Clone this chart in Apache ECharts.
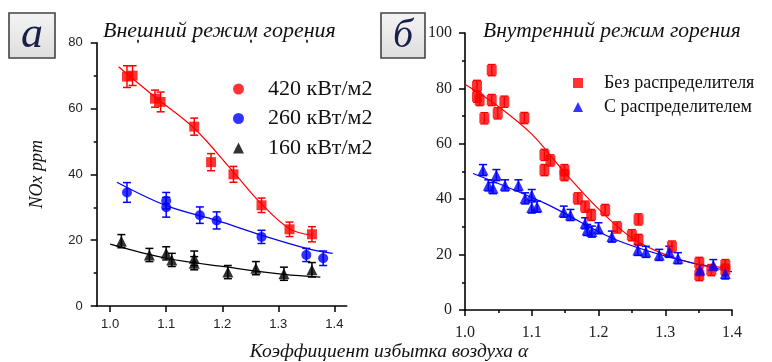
<!DOCTYPE html>
<html><head><meta charset="utf-8">
<script src="https://cdn.jsdelivr.net/npm/echarts@6/dist/echarts.min.js"></script>
<style>html,body{margin:0;padding:0;background:#fff}#c{width:772px;height:362px}</style>
</head><body><div id="c"></div>
<script>
// ---- Panel a: external combustion mode ----
const xTicksA = [1.0, 1.1, 1.2, 1.3, 1.4];
const xMinorA = [1.05, 1.15, 1.25, 1.35];
const names = ['420 кВт/м2', '260 кВт/м2', '160 кВт/м2'];
const x420 = [1.03, 1.04, 1.08, 1.09, 1.15, 1.18, 1.22, 1.27, 1.32, 1.36];
const y420 = [69.7, 70.0, 63.0, 62.0, 54.5, 43.7, 40.0, 30.6, 23.3, 21.8];
const e420 = [3.3, 3.0, 2.6, 3.0, 2.6, 2.6, 2.4, 2.2, 2.2, 2.3];
const fx420 = [1.015, 1.08, 1.15, 1.22, 1.27, 1.32, 1.36];
const fy420 = [72.7, 63.5, 54.0, 40.7, 31.0, 23.5, 21.5];
const x260 = [1.03, 1.10, 1.10, 1.16, 1.19, 1.27, 1.35, 1.38];
const y260 = [34.5, 32.0, 30.0, 27.6, 26.0, 21.0, 15.5, 14.5];
const e260 = [3.0, 2.5, 3.0, 2.5, 2.6, 2.0, 2.0, 2.2];
const fx260 = [1.012, 1.10, 1.19, 1.27, 1.35, 1.397];
const fy260 = [37.6, 30.5, 26.0, 21.5, 17.5, 16.0];
const x160 = [1.02, 1.07, 1.10, 1.11, 1.15, 1.15, 1.21, 1.26, 1.31, 1.36];
const y160 = [19.7, 15.5, 16.0, 14.0, 14.5, 13.0, 10.3, 11.5, 9.8, 11.0];
const e160 = [2.0, 2.0, 2.0, 2.0, 2.2, 2.0, 2.0, 2.0, 2.0, 2.2];
const fx160 = [1.0, 1.10, 1.21, 1.31, 1.375];
const fy160 = [18.8, 14.5, 11.8, 9.6, 8.8];

// ---- Panel b: internal combustion mode ----
const namesB = ['Без распределителя', 'С распределителем'];
const xNo = [1.018, 1.018, 1.022, 1.029, 1.04, 1.04, 1.049, 1.059, 1.089, 1.119, 1.119, 1.128, 1.149, 1.149, 1.169, 1.18, 1.189, 1.21, 1.228, 1.25, 1.26, 1.26, 1.31, 1.351, 1.351, 1.369, 1.39, 1.39];
const yNo = [80.9, 77.0, 75.8, 69.2, 86.6, 75.8, 71.0, 75.2, 69.3, 56.0, 50.5, 54.0, 50.5, 48.7, 40.3, 37.3, 34.3, 36.1, 29.8, 27.0, 32.7, 25.3, 22.9, 17.0, 12.6, 14.4, 16.2, 14.5];
const eNo = 2.0;
const fxNo = [1.0, 1.05, 1.1, 1.15, 1.2, 1.25, 1.3, 1.35, 1.395];
const fyNo = [81.5, 73.5, 63.5, 49.5, 36.5, 26.0, 20.0, 16.5, 15.3];
const xWith = [1.027, 1.035, 1.042, 1.047, 1.06, 1.08, 1.09, 1.1, 1.1, 1.108, 1.148, 1.158, 1.18, 1.183, 1.19, 1.2, 1.22, 1.259, 1.271, 1.291, 1.306, 1.319, 1.352, 1.372, 1.39];
const yWith = [50.5, 45.0, 44.0, 48.7, 45.0, 45.0, 40.3, 41.5, 37.0, 37.3, 35.5, 34.3, 31.3, 28.9, 28.3, 29.5, 26.5, 21.7, 21.0, 19.9, 21.0, 18.7, 14.4, 16.2, 13.2];
const eWith = 2.0;
const fxWith = [1.012, 1.12, 1.22, 1.3, 1.4];
const fyWith = [49.3, 38.5, 26.0, 19.5, 13.8];

const SERIF = 'Liberation Serif';
const SANS = 'Liberation Sans';
const RED = '#ff0000', BLUE = '#0000ff', BLACK = '#000000';

function pts(xs, ys, es) {
  return xs.map((x, i) => [x, ys[i], Array.isArray(es) ? es[i] : es]);
}
function line(xs, ys) { return xs.map((x, i) => [x, ys[i]]); }

function errRender(color) {
  return function (params, api) {
    const x = api.value(0), y = api.value(1), e = api.value(2);
    const hi = api.coord([x, y + e]), lo = api.coord([x, y - e]);
    const w = 4;
    const st = { stroke: color, lineWidth: 1.5 };
    return { type: 'group', children: [
      { type: 'line', shape: { x1: hi[0], y1: hi[1], x2: lo[0], y2: lo[1] }, style: st },
      { type: 'line', shape: { x1: hi[0] - w, y1: hi[1], x2: hi[0] + w, y2: hi[1] }, style: st },
      { type: 'line', shape: { x1: lo[0] - w, y1: lo[1], x2: lo[0] + w, y2: lo[1] }, style: st }
    ]};
  };
}

function scatterWithErr(name, data, color, symbol, size, xi, yi) {
  return [
    { type: 'scatter', name: name, xAxisIndex: xi, yAxisIndex: yi, data: data.map(d => [d[0], d[1]]),
      symbol: symbol, symbolSize: size, itemStyle: { color: color }, z: 4 },
    { type: 'custom', name: name, xAxisIndex: xi, yAxisIndex: yi, renderItem: errRender(color),
      itemStyle: { color: color }, data: data, encode: { x: 0, y: 1 }, z: 3, silent: true }
  ];
}
function fitLine(data, color, xi, yi) {
  return { type: 'line', xAxisIndex: xi, yAxisIndex: yi, data: data, smooth: 0.35, showSymbol: false,
    itemStyle: { color: color }, lineStyle: { color: color, width: 1.2 }, z: 2, silent: true };
}

const axisLineStyle = { lineStyle: { color: '#000', width: 1.6 } };

const option = {
  animation: false,
  backgroundColor: '#fff',
  title: [
    { text: 'Внешний режим горения', left: 98, top: 15,
      textStyle: { fontFamily: SERIF, fontStyle: 'italic', fontWeight: 'normal', fontSize: 22, color: '#111' } },
    { text: 'Внутренний режим горения', left: 478, top: 15,
      textStyle: { fontFamily: SERIF, fontStyle: 'italic', fontWeight: 'normal', fontSize: 21.5, color: '#111' } },
    { text: 'Коэффициент избытка воздуха α', left: 384, textAlign: 'center', top: 337,
      textStyle: { fontFamily: SERIF, fontStyle: 'italic', fontWeight: 'normal', fontSize: 19.5, color: '#111' } }
  ],
  graphic: [
    { type: 'rect', shape: { x: 9, y: 13, width: 46, height: 45 },
      style: { fill: new echarts.graphic.LinearGradient(0, 0, 0, 1, [{ offset: 0, color: '#f4f4f4' }, { offset: 1, color: '#dedede' }]),
        stroke: '#444', lineWidth: 1.6 } },
    { type: 'text', x: 32, y: 35, style: { text: 'а', fill: '#1a1f4a', font: 'italic 44px "Liberation Serif"', align: 'center', verticalAlign: 'middle' } },
    { type: 'rect', shape: { x: 381, y: 13, width: 44, height: 45 },
      style: { fill: new echarts.graphic.LinearGradient(0, 0, 0, 1, [{ offset: 0, color: '#f4f4f4' }, { offset: 1, color: '#dedede' }]),
        stroke: '#444', lineWidth: 1.6 } },
    { type: 'text', x: 403, y: 36, style: { text: 'б', fill: '#1a1f4a', font: 'italic 40px "Liberation Serif"', align: 'center', verticalAlign: 'middle' } }
  ],
  legend: [
    { orient: 'vertical', left: 228, top: 73, itemWidth: 11, itemHeight: 11, itemGap: 7.5,
      data: [{ name: names[0], icon: 'circle' }, { name: names[1], icon: 'circle' }, { name: names[2], icon: 'triangle' }],
      textStyle: { fontFamily: SERIF, fontSize: 22, color: '#111', padding: [0, 0, 0, 19] } },
    { orient: 'vertical', left: 568, top: 69, itemWidth: 10, itemHeight: 10, itemGap: 6,
      data: [{ name: namesB[0], icon: 'rect' }, { name: namesB[1], icon: 'triangle' }],
      textStyle: { fontFamily: SERIF, fontSize: 18, color: '#111', padding: [0, 0, 0, 16] } }
  ],
  grid: [
    { left: 96.7, top: 42.7, width: 250, height: 263.3 },
    { left: 465, top: 33, width: 267, height: 277 }
  ],
  xAxis: [
    { type: 'value', gridIndex: 0, min: 0.976, max: 1.422, axisLine: axisLineStyle, splitLine: { show: false },
      axisTick: { customValues: xTicksA, length: 6, lineStyle: { color: '#000', width: 1.5 } },
      axisLabel: { customValues: xTicksA, margin: 12, fontFamily: SANS, fontSize: 13, color: '#222', formatter: v => v.toFixed(1) } },
    { type: 'value', gridIndex: 0, min: 0.976, max: 1.422, axisLine: { show: false }, splitLine: { show: false },
      axisTick: { customValues: xMinorA, length: 3, lineStyle: { color: '#000', width: 1.5 } },
      axisLabel: { show: false } },
    { type: 'value', gridIndex: 1, min: 1.0, max: 1.4, interval: 0.1, axisLine: axisLineStyle, splitLine: { show: false },
      axisTick: { length: 6, lineStyle: { color: '#000', width: 1.5 } },
      minorTick: { show: true, splitNumber: 2, length: 3, lineStyle: { color: '#000', width: 1.5 } },
      axisLabel: { margin: 15, fontFamily: SERIF, fontSize: 16, color: '#222', formatter: v => v.toFixed(1) } }
  ],
  yAxis: [
    { type: 'value', gridIndex: 0, min: 0, max: 80, interval: 20, axisLine: axisLineStyle, splitLine: { show: false },
      axisTick: { length: 6, lineStyle: { color: '#000', width: 1.5 } },
      minorTick: { show: true, splitNumber: 2, length: 3, lineStyle: { color: '#000', width: 1.5 } },
      axisLabel: { margin: 14, fontFamily: SANS, fontSize: 13, color: '#222' },
      name: 'NOx ppm', nameLocation: 'middle', nameGap: 50, nameRotate: 90,
      nameTextStyle: { fontFamily: SERIF, fontStyle: 'italic', fontSize: 18, color: '#111' } },
    { type: 'value', gridIndex: 1, min: 0, max: 100, interval: 20, axisLine: axisLineStyle, splitLine: { show: false },
      axisTick: { length: 6, lineStyle: { color: '#000', width: 1.5 } },
      minorTick: { show: true, splitNumber: 2, length: 3, lineStyle: { color: '#000', width: 1.5 } },
      axisLabel: { margin: 13, fontFamily: SERIF, fontSize: 16, color: '#222' } }
  ],
  series: [
    ...scatterWithErr(names[0], pts(x420, y420, e420), RED, 'rect', 10, 0, 0),
    ...scatterWithErr(names[1], pts(x260, y260, e260), BLUE, 'circle', 10, 0, 0),
    ...scatterWithErr(names[2], pts(x160, y160, e160), BLACK, 'triangle', 11, 0, 0),
    ...scatterWithErr(namesB[0], pts(xNo, yNo, eNo), RED, 'rect', 10, 2, 1),
    ...scatterWithErr(namesB[1], pts(xWith, yWith, eWith), BLUE, 'triangle', 11, 2, 1),
    fitLine(line(fx420, fy420), RED, 0, 0),
    fitLine(line(fx260, fy260), BLUE, 0, 0),
    fitLine(line(fx160, fy160), BLACK, 0, 0),
    fitLine(line(fxNo, fyNo), RED, 2, 1),
    fitLine(line(fxWith, fyWith), BLUE, 2, 1)
  ]
};
const chart = echarts.init(document.getElementById('c'), null, { renderer: 'canvas' });
chart.setOption(option);
</script></body></html>
